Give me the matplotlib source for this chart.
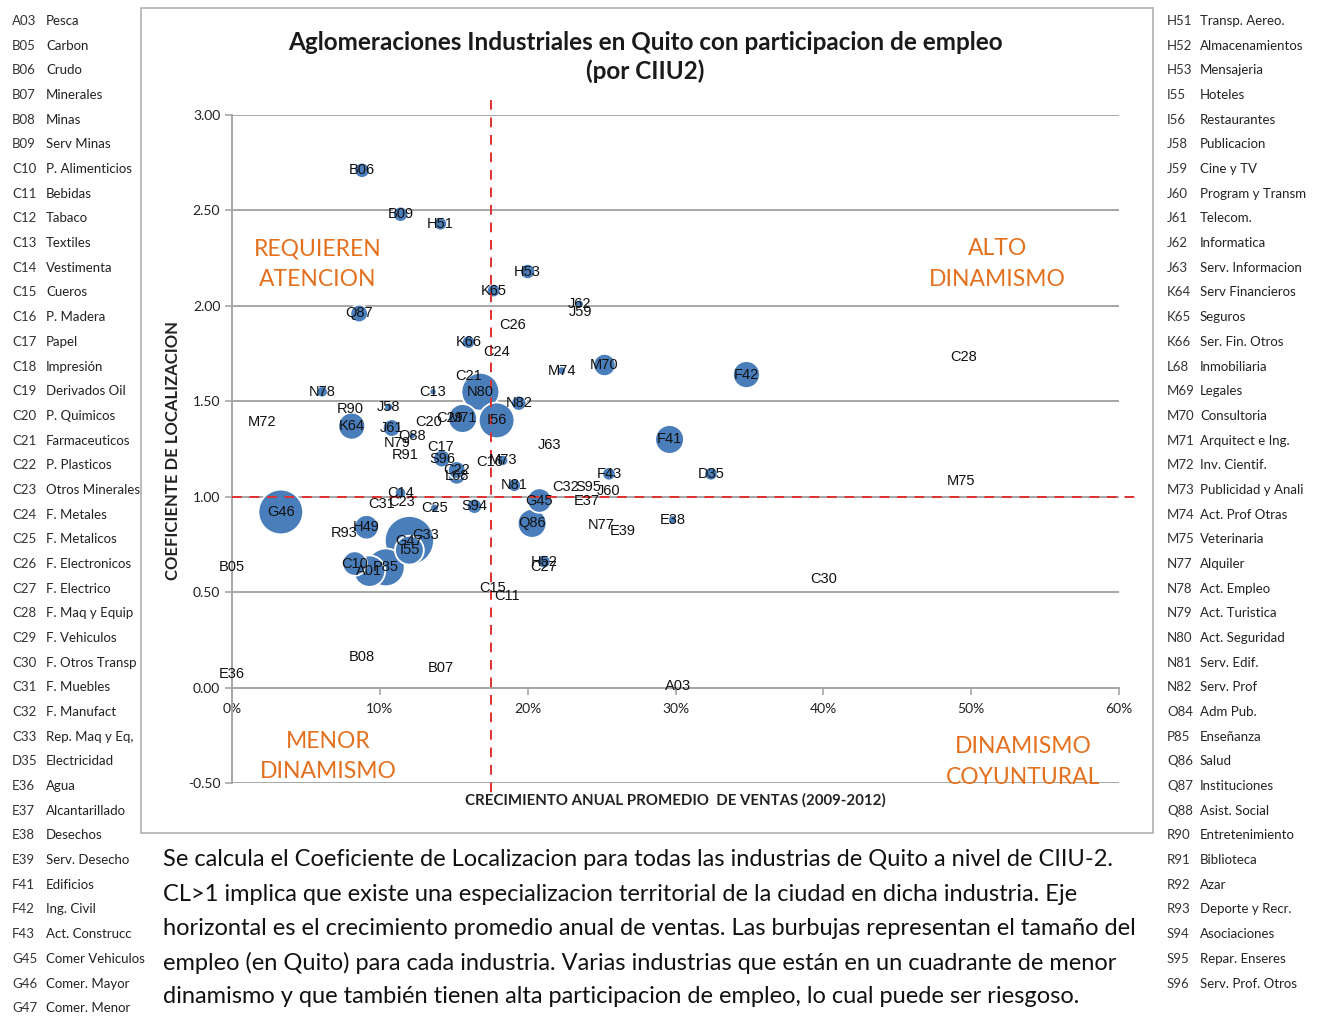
import matplotlib
matplotlib.use("Agg")
import matplotlib.pyplot as plt
from matplotlib.patches import Rectangle
import numpy as np

# datos (crecimiento de ventas %, coeficiente de localizacion, empleo %)
codigos = ["B06", "B09", "H51", "H53", "K65", "J62", "J59", "Q87", "C26", "K66",
           "C24", "M74", "M70", "F42", "C28", "C21", "N80", "N78", "C13", "N82",
           "R90", "J58", "M72", "K64", "J61", "C20", "C29", "M71", "I56", "Q88",
           "N79", "R91", "C17", "S96", "C22", "L68", "J63", "C16", "M73", "F41",
           "F43", "D35", "J60", "S95", "C32", "N81", "E37", "G45", "M75", "C14",
           "C23", "C31", "C25", "S94", "G46", "Q86", "N77", "E39", "E38", "R93",
           "H49", "C33", "G47", "I55", "H52", "C27", "C10", "A01", "P85", "B05",
           "C15", "C11", "C30", "B08", "B07", "E36", "A03"]
crecimiento = [8.8, 11.4, 14.1, 20.0, 17.7, 23.5, 23.6, 8.6, 19.0, 16.0,
               17.9, 22.3, 25.2, 34.8, 49.5, 16.0, 16.8, 6.1, 13.6, 19.4,
               8.0, 10.6, 2.0, 8.1, 10.8, 13.3, 14.7, 15.6, 17.9, 12.2,
               11.2, 11.7, 14.1, 14.2, 15.2, 15.2, 21.5, 17.4, 18.3, 29.6,
               25.5, 32.4, 25.5, 24.1, 22.6, 19.1, 24.0, 20.8, 49.3, 11.4,
               11.5, 10.1, 13.7, 16.4, 3.3, 20.3, 25.0, 26.4, 29.8, 7.6,
               9.1, 13.1, 12.0, 12.0, 21.1, 21.1, 8.3, 9.3, 10.4, 0.0,
               17.6, 18.6, 40.0, 8.8, 14.1, 0.0, 30.2]
coef_loc = [2.71, 2.48, 2.43, 2.18, 2.08, 2.01, 1.97, 1.96, 1.90, 1.81,
            1.76, 1.66, 1.69, 1.64, 1.73, 1.63, 1.55, 1.55, 1.55, 1.49,
            1.46, 1.47, 1.39, 1.37, 1.36, 1.39, 1.41, 1.41, 1.40, 1.32,
            1.28, 1.22, 1.26, 1.20, 1.14, 1.11, 1.27, 1.18, 1.19, 1.30,
            1.12, 1.12, 1.03, 1.05, 1.05, 1.06, 0.98, 0.98, 1.08, 1.02,
            0.97, 0.96, 0.94, 0.95, 0.92, 0.86, 0.85, 0.82, 0.88, 0.81,
            0.84, 0.80, 0.77, 0.72, 0.66, 0.63, 0.65, 0.61, 0.63, 0.63,
            0.52, 0.48, 0.57, 0.16, 0.10, 0.07, 0.01]
empleo = [0.9, 0.9, 0.7, 0.9, 0.7, 0.3, 0.0, 1.2, 0.0, 0.7,
          0.0, 0.3, 1.9, 2.8, 0.0, 0.0, 5.5, 0.5, 0.2, 0.9,
          0.0, 0.3, 0.0, 2.8, 1.2, 0.0, 0.0, 3.2, 4.9, 0.2,
          0.0, 0.0, 0.0, 1.2, 1.2, 1.2, 0.0, 0.0, 0.5, 3.2,
          0.7, 0.7, 0.0, 0.0, 0.0, 0.7, 0.0, 2.3, 0.0, 0.5,
          0.0, 0.0, 0.3, 0.9, 7.7, 3.2, 0.0, 0.0, 0.3, 0.0,
          2.3, 0.0, 9.3, 3.2, 0.7, 0.0, 2.3, 3.8, 5.5, 0.0,
          0.0, 0.0, 0.0, 0.0, 0.0, 0.0, 0.0]

yticks = [3.0, 2.5, 2.0, 1.5, 1.0, 0.5, 0.0, -0.5]
xticks = [0, 10, 20, 30, 40, 50, 60]

izq_cod = ["A03", "B05", "B06", "B07", "B08", "B09", "C10", "C11", "C12", "C13",
           "C14", "C15", "C16", "C17", "C18", "C19", "C20", "C21", "C22", "C23",
           "C24", "C25", "C26", "C27", "C28", "C29", "C30", "C31", "C32", "C33",
           "D35", "E36", "E37", "E38", "E39", "F41", "F42", "F43", "G45", "G46", "G47"]
izq_nom = ["Pesca", "Carbon", "Crudo", "Minerales", "Minas", "Serv Minas",
           "P. Alimenticios", "Bebidas", "Tabaco", "Textiles", "Vestimenta",
           "Cueros", "P. Madera", "Papel", "Impresión", "Derivados Oil",
           "P. Quimicos", "Farmaceuticos", "P. Plasticos", "Otros Minerales",
           "F. Metales", "F. Metalicos", "F. Electronicos", "F. Electrico",
           "F. Maq y Equip", "F. Vehiculos", "F. Otros Transp", "F. Muebles",
           "F. Manufact", "Rep. Maq y Eq,", "Electricidad", "Agua",
           "Alcantarillado", "Desechos", "Serv. Desecho", "Edificios",
           "Ing. Civil", "Act. Construcc", "Comer Vehiculos", "Comer. Mayor",
           "Comer. Menor"]
der_cod = ["H51", "H52", "H53", "I55", "I56", "J58", "J59", "J60", "J61", "J62",
           "J63", "K64", "K65", "K66", "L68", "M69", "M70", "M71", "M72", "M73",
           "M74", "M75", "N77", "N78", "N79", "N80", "N81", "N82", "O84", "P85",
           "Q86", "Q87", "Q88", "R90", "R91", "R92", "R93", "S94", "S95", "S96"]
der_nom = ["Transp. Aereo.", "Almacenamientos", "Mensajeria", "Hoteles",
           "Restaurantes", "Publicacion", "Cine y TV", "Program y Transm",
           "Telecom.", "Informatica", "Serv. Informacion", "Serv Financieros",
           "Seguros", "Ser. Fin. Otros", "Inmobiliaria", "Legales", "Consultoria",
           "Arquitect e Ing.", "Inv. Cientif.", "Publicidad y Anali",
           "Act. Prof Otras", "Veterinaria", "Alquiler", "Act. Empleo",
           "Act. Turistica", "Act. Seguridad", "Serv. Edif.", "Serv. Prof",
           "Adm Pub.", "Enseñanza", "Salud", "Instituciones", "Asist. Social",
           "Entretenimiento", "Biblioteca", "Azar", "Deporte y Recr.",
           "Asociaciones", "Repar. Enseres", "Serv. Prof. Otros"]

W, H = 1321, 1017
fig = plt.figure(figsize=(W / 100, H / 100), dpi=100)
fig.patch.set_facecolor("white")

def fx(px):
    return px / W

def fy(py):
    return 1 - py / H

naranja = "#E4701E"
gris = "#A6A6A6"
calibri = ["Lato", "DejaVu Sans"]

# marco del grafico
fig.patches.append(Rectangle((fx(141), fy(833)), fx(1153) - fx(141), fy(8) - fy(833),
                             transform=fig.transFigure, fill=False,
                             edgecolor="#B0B0B0", linewidth=1.2))

ax = fig.add_axes([fx(232), fy(783), fx(1119) - fx(232), fy(115) - fy(783)])
ax.set_xlim(0, 60)
ax.set_ylim(-0.5, 3.0)

for yv in yticks:
    ax.axhline(yv, color=gris, linewidth=1.4, zorder=1)

for s in ["top", "right"]:
    ax.spines[s].set_visible(False)
ax.spines["bottom"].set_position(("data", 0))
ax.spines["bottom"].set_color(gris)
ax.spines["bottom"].set_linewidth(1.4)
ax.spines["left"].set_color(gris)
ax.spines["left"].set_linewidth(1.4)

ax.set_yticks(yticks)
ax.set_yticklabels([f"{v:.2f}" for v in yticks], fontfamily=calibri, fontsize=10)
ax.set_xticks(xticks)
ax.set_xticklabels([f"{v}%" for v in xticks], fontfamily=calibri, fontsize=10)
ax.tick_params(axis="both", colors=gris, labelcolor="#222222", length=5, width=1.2)
ax.tick_params(axis="x", pad=6)

# burbujas (las grandes atras)
orden = np.argsort(empleo)[::-1]
x = np.array(crecimiento)[orden]
y = np.array(coef_loc)[orden]
s = np.array(empleo)[orden] * 135
ax.scatter(x, y, s=s, color="#4A7EBB", edgecolors="white", linewidths=1.3, zorder=3)

for c, xv, yv in zip(codigos, crecimiento, coef_loc):
    ax.text(xv, yv, c, ha="center", va="center", fontsize=10.5,
            fontfamily="Liberation Sans", color="#111111", zorder=5)

# lineas de cuadrantes
ax.plot([17.5, 17.5], [3.08, -0.55], color="#E03030", linestyle=(0, (5, 4)),
        linewidth=1.4, zorder=4, clip_on=False)
ax.plot([0, 61.5], [1.0, 1.0], color="#E03030", linestyle=(0, (5, 4)),
        linewidth=1.4, zorder=4, clip_on=False)

# etiquetas de cuadrantes
kw = dict(color=naranja, fontsize=16.5, fontfamily=calibri, ha="center",
          va="center", linespacing=1.55)
ax.text(5.8, 2.22, "REQUIEREN\nATENCION", **kw)
ax.text(51.8, 2.22, "ALTO\nDINAMISMO", **kw)
ax.text(6.5, -0.36, "MENOR\nDINAMISMO", **kw)
ax.text(53.5, -0.39, "DINAMISMO\nCOYUNTURAL", **kw)

fig.text(fx(675), fy(800), "CRECIMIENTO ANUAL PROMEDIO  DE VENTAS (2009-2012)",
         ha="center", va="center", fontsize=10.8, fontweight="bold",
         fontfamily=calibri, color="#222222")
fig.text(fx(173), fy(450), "COEFICIENTE DE LOCALIZACION", rotation=90,
         ha="center", va="center", fontsize=12, fontweight="bold",
         fontfamily=calibri, color="#222222")

fig.text(fx(645), fy(57), "Aglomeraciones Industriales en Quito con participacion de empleo\n(por CIIU2)",
         ha="center", va="center", fontsize=17.5, fontweight="bold",
         fontfamily=calibri, color="#1a1a1a", linespacing=1.3)

# leyendas laterales
paso = 24.68
for i, (c, n) in enumerate(zip(izq_cod, izq_nom)):
    yy = fy(21 + i * paso)
    fig.text(fx(12), yy, c, fontsize=9.5, fontfamily=calibri, va="center", color="#333333")
    fig.text(fx(46), yy, n, fontsize=9.5, fontfamily=calibri, va="center", color="#222222")
for i, (c, n) in enumerate(zip(der_cod, der_nom)):
    yy = fy(21 + i * paso)
    fig.text(fx(1167), yy, c, fontsize=9.5, fontfamily=calibri, va="center", color="#333333")
    fig.text(fx(1200), yy, n, fontsize=9.5, fontfamily=calibri, va="center", color="#222222")

parrafo = [
    "Se calcula el Coeficiente de Localizacion para todas las industrias de Quito a nivel de CIIU-2.",
    "CL>1 implica que existe una especializacion territorial de la ciudad en dicha industria. Eje",
    "horizontal es el crecimiento promedio anual de ventas. Las burbujas representan el tamaño del",
    "empleo (en Quito) para cada industria. Varias industrias que están en un cuadrante de menor",
    "dinamismo y que también tienen alta participacion de empleo, lo cual puede ser riesgoso.",
]
for i, linea in enumerate(parrafo):
    fig.text(fx(163), fy(860 + i * 34.2), linea, fontsize=17, fontfamily=calibri,
             va="center", ha="left", color="#111111")

fig.savefig("out.png", dpi=100)
